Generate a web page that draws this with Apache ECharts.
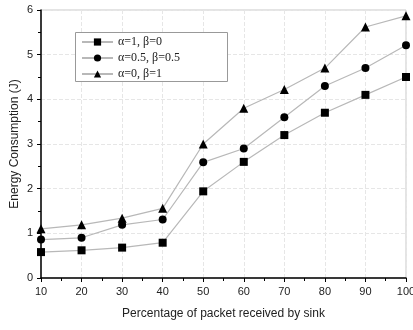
<!DOCTYPE html>
<html>
<head>
<meta charset="utf-8">
<script src="https://cdn.jsdelivr.net/npm/echarts@6/dist/echarts.min.js"></script>
<style>
  html, body { margin: 0; padding: 0; background: #fff; }
  #chart { width: 413px; height: 330px; }
</style>
</head>
<body>
<div id="chart"></div>
<script>
// percentage of packets received by sink
const packetPct = [10, 20, 30, 40, 50, 60, 70, 80, 90, 100]
const seriesNames = ['\u03b1=1, \u03b2=0', '\u03b1=0.5, \u03b2=0.5', '\u03b1=0, \u03b2=1']
const energyA1B0 = [0.58, 0.62, 0.68, 0.79, 1.94, 2.6, 3.2, 3.7, 4.1, 4.5]
const energyA05B05 = [0.86, 0.9, 1.19, 1.31, 2.59, 2.9, 3.6, 4.3, 4.7, 5.21]
const energyA0B1 = [1.1, 1.19, 1.34, 1.56, 3.0, 3.8, 4.22, 4.7, 5.62, 5.87]
const symbols = ['rect', 'circle', 'triangle']

const chart = echarts.init(document.getElementById('chart'))

const axisText = { color: '#222', fontSize: 11, fontFamily: 'Liberation Sans' }

function makeSeries(name, values, symbol) {
  return {
    name: name,
    type: 'line',
    data: packetPct.map((x, i) => [x, values[i]]),
    symbol: symbol,
    symbolSize: symbol === 'triangle' ? 9 : 8,
    itemStyle: { color: '#000' },
    lineStyle: { color: '#b8b8b8', width: 1.2 },
    animation: false,
  }
}

chart.setOption({
  backgroundColor: '#fff',
  grid: {
    left: 41, right: 7, top: 10, bottom: 52,
    outerBoundsMode: 'none',
    containLabel: false,
    show: true, borderColor: '#c8c8c8', borderWidth: 1,
  },
  // legend frame (wider than the legend content, as in the original)
  graphic: [{
    type: 'rect',
    left: 75, top: 32,
    shape: { width: 152, height: 49 },
    style: { fill: '#fff', stroke: '#999', lineWidth: 1 },
    z: 5,
  }],
  legend: {
    orient: 'vertical',
    left: 76, top: 34,
    itemWidth: 31, itemHeight: 9,
    itemGap: 4,
    padding: [2, 4, 2, 5],
    z: 10,
    textStyle: { fontFamily: 'Liberation Serif', fontSize: 12, color: '#222' },
    data: seriesNames,
  },
  xAxis: {
    type: 'value',
    min: 10, max: 100, interval: 10,
    name: 'Percentage of packet received by sink',
    nameLocation: 'middle',
    nameGap: 30,
    nameMoveOverlap: false,
    nameTextStyle: { color: '#222', fontSize: 12, fontFamily: 'Liberation Sans' },
    axisLine: { show: true, lineStyle: { color: '#000', width: 1.5 } },
    axisTick: { show: true, length: 4, lineStyle: { color: '#000' } },
    minorTick: { show: true, splitNumber: 2, length: 3, lineStyle: { color: '#000' } },
    axisLabel: axisText,
    splitLine: { show: true, lineStyle: { color: '#e6e6e6', type: 'dashed' } },
  },
  yAxis: {
    type: 'value',
    min: 0, max: 6, interval: 1,
    name: 'Energy Consumption (J)',
    nameLocation: 'middle',
    nameGap: 20,
    nameMoveOverlap: false,
    nameTextStyle: { color: '#222', fontSize: 12, fontFamily: 'Liberation Sans' },
    axisLine: { show: true, lineStyle: { color: '#000', width: 1.5 } },
    axisTick: { show: true, length: 4, lineStyle: { color: '#000' } },
    minorTick: { show: true, splitNumber: 2, length: 3, lineStyle: { color: '#000' } },
    axisLabel: axisText,
    splitLine: { show: true, lineStyle: { color: '#e6e6e6', type: 'dashed' } },
  },
  series: [
    makeSeries(seriesNames[0], energyA1B0, symbols[0]),
    makeSeries(seriesNames[1], energyA05B05, symbols[1]),
    makeSeries(seriesNames[2], energyA0B1, symbols[2]),
  ],
})
</script>
</body>
</html>
